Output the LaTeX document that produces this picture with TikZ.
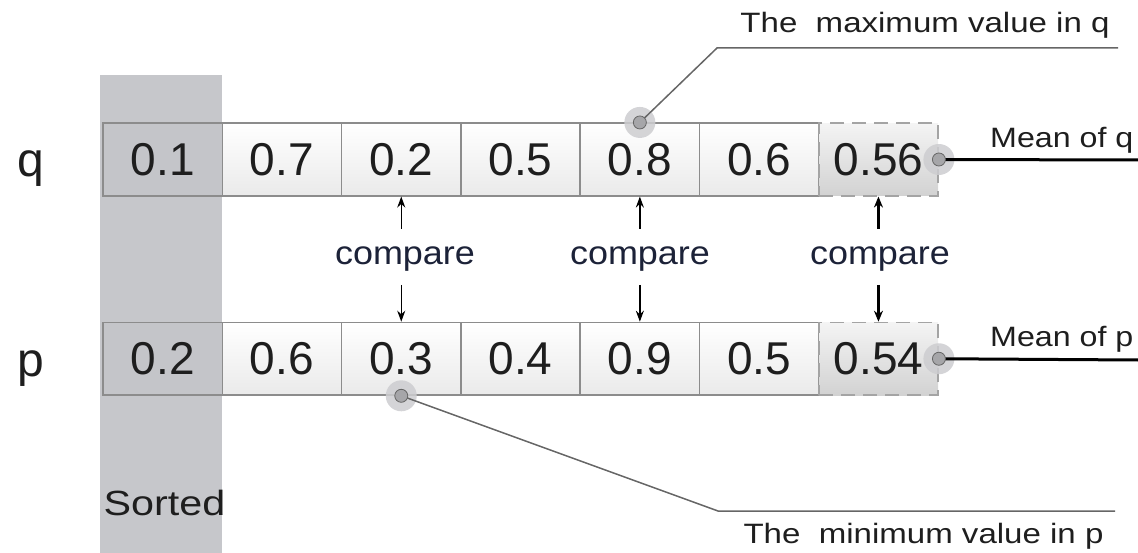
\documentclass[tikz,border=0pt]{standalone}
\usepackage{fontspec}
\setmainfont{Liberation Sans}
\usetikzlibrary{arrows.meta}
\definecolor{colgray}{HTML}{C6C7CB}
\definecolor{sortcell}{HTML}{C4C5C9}
\definecolor{cellborder}{HTML}{8C8C8C}
\definecolor{cellbot}{HTML}{EAEAEA}
\definecolor{meantop}{HTML}{F4F4F4}
\definecolor{meanbot}{HTML}{D2D2D2}
\definecolor{meanborder}{HTML}{A4A4A4}
\definecolor{halogray}{HTML}{CDCDD0}
\definecolor{dotgray}{HTML}{A6A6A9}
\definecolor{calloutgray}{HTML}{666666}
\definecolor{cmpcol}{HTML}{1C2238}
\definecolor{txtcol}{HTML}{1E1E1E}
\begin{document}
\begin{tikzpicture}[x=1pt,y=-1pt,
  cellbase/.style={draw=cellborder, line width=1.6pt, minimum width=119.3pt, minimum height=72.5pt,
    inner sep=0pt, font=\fontsize{46}{46}\selectfont, text=txtcol},
  normalcell/.style={cellbase, top color=white, bottom color=cellbot},
  sortedcell/.style={cellbase, fill=sortcell},
  meancell/.style={cellbase, draw=meanborder, dash pattern=on 14pt off 8pt, top color=meantop, bottom color=meanbot},
  rowlabel/.style={font=\fontsize{48}{48}\selectfont, text=txtcol, anchor=base, inner sep=0pt},
  lbl/.style={font=\fontsize{28}{28}\selectfont, text=txtcol, inner sep=0pt},
  cmplbl/.style={font=\fontsize{33}{33}\selectfont, text=cmpcol, anchor=base, inner sep=0pt},
  halo/.style={circle, fill=halogray, opacity=0.85, minimum size=31pt, inner sep=0pt},
  dot/.style={circle, fill=dotgray, draw=gray!80!black, line width=0.8pt, minimum size=13pt, inner sep=0pt},
  callout/.style={draw=calloutgray, line width=1.5pt},
  meanline/.style={draw=black, line width=3pt},
  cmparrow/.style={draw=black, line width=1.5pt, -{Stealth[length=11pt,width=8pt]}},
  cmparrowbold/.style={draw=black, line width=3pt, -{Stealth[length=11pt,width=9pt]}}
]
\useasboundingbox (0,0) rectangle (1138,553);

% sorted column
\node[fill=colgray, minimum width=122pt, minimum height=478pt, inner sep=0pt, anchor=north west] (col) at (100,75) {};
\node[font=\fontsize{35}{35}\selectfont, text=txtcol, anchor=base, inner sep=0pt] (sorted) at (164.5,515) {\scalebox{1.18}[1]{Sorted}};

% row labels
\node[rowlabel] (qlab) at (31,177) {q};
\node[rowlabel] (plab) at (31,376) {p};

% q row
\node[sortedcell] (q1) at (162.65,159.5) {0.1};
\node[normalcell] (q2) at (281.95,159.5) {0.7};
\node[normalcell] (q3) at (401.25,159.5) {0.2};
\node[normalcell] (q4) at (520.55,159.5) {0.5};
\node[normalcell] (q5) at (639.85,159.5) {0.8};
\node[normalcell] (q6) at (759.15,159.5) {0.6};
\node[meancell]   (q7) at (878.45,159.5) {0.56};

% p row
\node[sortedcell] (p1) at (162.65,358.75) {0.2};
\node[normalcell] (p2) at (281.95,358.75) {0.6};
\node[normalcell] (p3) at (401.25,358.75) {0.3};
\node[normalcell] (p4) at (520.55,358.75) {0.4};
\node[normalcell] (p5) at (639.85,358.75) {0.9};
\node[normalcell] (p6) at (759.15,358.75) {0.5};
\node[meancell]   (p7) at (878.45,358.75) {0.54};

% compare labels and arrows
\node[cmplbl] (cmp1) at (405,265) {\scalebox{1.09}[1]{compare}};
\node[cmplbl] (cmp2) at (640,265) {\scalebox{1.09}[1]{compare}};
\node[cmplbl] (cmp3) at (880,265) {\scalebox{1.09}[1]{compare}};
\coordinate (c1u) at (401.25,229);
\coordinate (c1d) at (401.25,285);
\coordinate (c2u) at (639.85,229);
\coordinate (c2d) at (639.85,285);
\coordinate (c3u) at (878.45,229);
\coordinate (c3d) at (878.45,285);
\draw[cmparrow] (c1u) -- (q3.south);
\draw[cmparrow] (c1d) -- (p3.north);
\draw[cmparrow] (c2u) -- (q5.south);
\draw[cmparrow] (c2d) -- (p5.north);
\draw[cmparrowbold] (c3u) -- (q7.south);
\draw[cmparrowbold] (c3d) -- (p7.north);

% halos
\node[halo] (hmax) at (q5.north) {};
\node[halo] (hmin) at (p3.south) {};
\node[halo] (hmq) at (q7.east) {};
\node[halo] (hmp) at (p7.east) {};

% callout coordinates
\coordinate (maxbend) at (717,48);
\coordinate (maxend) at (1118,48);
\coordinate (minbend) at (718,511);
\coordinate (minend) at (1115,511);
\coordinate (mqend) at (1138,160);
\coordinate (mpend) at (1138,360);

\draw[callout] (hmax.center) -- (maxbend) -- (maxend);
\draw[callout] (hmin.center) -- (minbend) -- (minend);
\draw[meanline] (hmq.center) -- (mqend);
\draw[meanline] (hmp.center) -- (mpend);

% dots
\node[dot] (dmax) at (hmax.center) {};
\node[dot] (dmin) at (hmin.center) {};
\node[dot] (dmq) at (hmq.center) {};
\node[dot] (dmp) at (hmp.center) {};

% texts
\node[lbl, anchor=base] (tmax) at (925,33) {\scalebox{1.18}[1]{The\ \ maximum value in q}};
\node[lbl, anchor=base] (tmin) at (923.5,543) {\scalebox{1.18}[1]{The\ \ minimum value in p}};
\node[lbl, anchor=base west] (tmq) at (990,148) {\scalebox{1.15}[1]{Mean of q}};
\node[lbl, anchor=base west] (tmp) at (990,347) {\scalebox{1.15}[1]{Mean of p}};
\end{tikzpicture}
\end{document}
